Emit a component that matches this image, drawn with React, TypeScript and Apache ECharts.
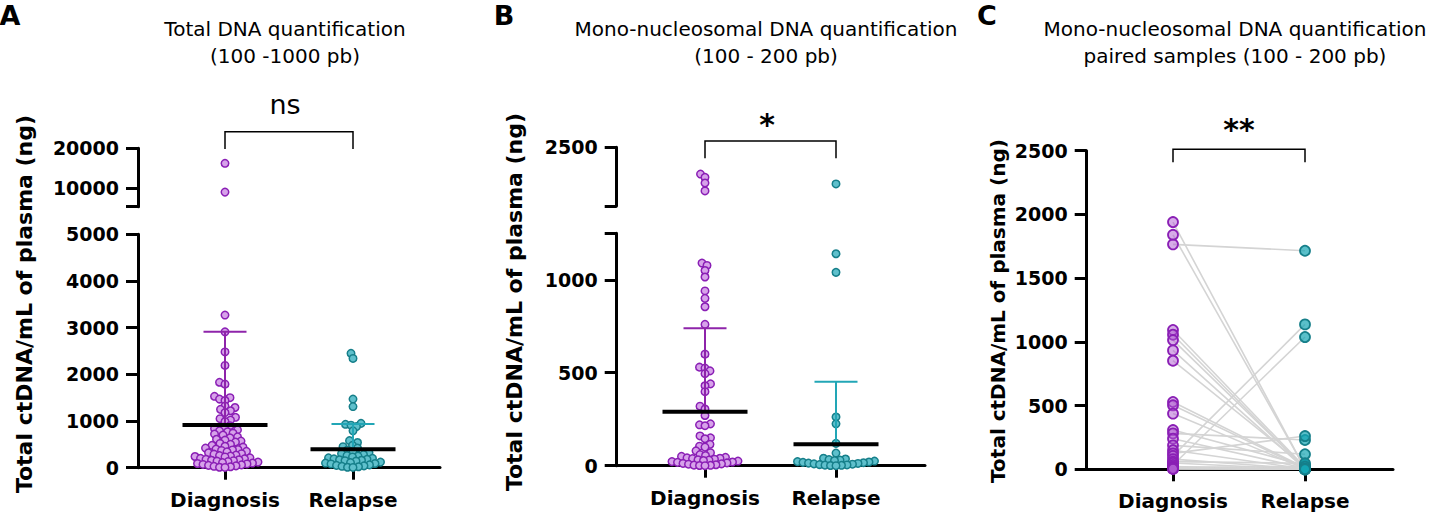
import React, { useEffect, useRef } from "react";
import * as echarts from "echarts";

// ---------- data ----------
const categories = ["Diagnosis", "Relapse"];
const yTitle = "Total ctDNA/mL of plasma (ng)";
const titlesA = ["Total DNA quantification", "(100 -1000 pb)"];
const titlesB = ["Mono-nucleosomal DNA quantification", "(100 - 200 pb)"];
const titlesC = ["Mono-nucleosomal DNA quantification", "paired samples (100 - 200 pb)"];
const panelLetters = ["A", "B", "C"];
const significance = ["ns", "*", "**"];

const totalDiagnosis = [16200, 8900, 3270, 2910, 2480, 2190, 1830, 1790, 1530, 1500, 1470, 1440, 1320, 1290, 1250, 1220, 1180, 1080, 1050, 1020, 990, 900, 870, 840, 810, 790, 770, 740, 720, 700, 660, 640, 610, 590, 570, 550, 520, 500, 480, 460, 440, 420, 400, 390, 380, 370, 350, 340, 320, 300, 290, 270, 260, 250, 240, 230, 210, 200, 190, 180, 170, 160, 150, 140, 130, 120, 110, 100, 90, 80, 70, 60, 50, 40, 30, 20, 10, 5];
const totalRelapse = [2450, 2340, 1470, 1310, 950, 930, 910, 880, 790, 580, 540, 480, 450, 420, 380, 350, 320, 300, 280, 260, 250, 230, 210, 200, 190, 180, 170, 160, 150, 140, 120, 110, 100, 90, 80, 60, 50, 40, 30, 20, 10, 5];
const totalMean = [915, 395];
const totalSdTop = [2910, 935];

const monoDiagnosis = [1930, 1860, 1740, 1570, 1090, 1077, 1050, 1015, 940, 900, 855, 760, 600, 530, 525, 510, 495, 440, 430, 398, 320, 305, 270, 225, 220, 215, 160, 150, 145, 115, 105, 100, 80, 70, 60, 55, 50, 45, 42, 40, 38, 35, 32, 30, 28, 25, 22, 20, 18, 15, 12, 10, 8, 5, 3, 2, 1, 0];
const monoRelapse = [1720, 1140, 1040, 262, 225, 120, 68, 40, 36, 33, 30, 28, 25, 22, 20, 18, 16, 14, 12, 10, 8, 6, 4, 3, 2, 1, 0];
const monoMean = [290, 115];
const monoSdTop = [739, 451];

const pairedDiagnosis = [1940, 1840, 1765, 1093, 1056, 1014, 933, 852, 528, 502, 437, 308, 282, 240, 188, 150, 125, 105, 80, 60, 50, 34, 21, 15, 10, 8, 5, 3];
const pairedRelapse = [3, 8, 1715, 15, 5, 10, 2, 20, 12, 6, 4, 30, 230, 8, 118, 3, 261, 1137, 2, 47, 0, 1038, 0, 21, 5, 2, 0, 1];

const ticksATop = [10000, 20000];
const ticksABottom = [0, 1000, 2000, 3000, 4000, 5000];
const ticksBTop = [2500];
const ticksBBottom = [0, 500, 1000];
const ticksC = [0, 500, 1000, 1500, 2000, 2500];
const rangeATop = [5200, 20000];
const rangeABottom = [0, 5000];
const rangeBTop = [1250, 2500];
const rangeBBottom = [0, 1250];
const rangeC = [0, 2500];

// ---------- layout / style ----------
const FONT = "DejaVu Sans";
const purple = { stroke: "#8a1fb5", fill: "#d7a2ea", bar: "#8e24aa", fillC: "rgba(175,90,210,0.5)" };
const teal = { stroke: "#167f8a", fill: "#5fc0cc", bar: "#22a6b6", fillC: "rgba(20,165,180,0.7)" };

type Seg = { y0: number; y1: number; range: number[] };
type Panel = { left: number; right: number; x1: number; x2: number; top?: Seg; bot: Seg };

const PA: Panel = { left: 138, right: 440, x1: 225, x2: 353, top: { y0: 148.3, y1: 206.7, range: rangeATop }, bot: { y0: 234.3, y1: 467.7, range: rangeABottom } };
const PB: Panel = { left: 616.7, right: 925, x1: 705, x2: 836, top: { y0: 147.3, y1: 206, range: rangeBTop }, bot: { y0: 233.3, y1: 465.7, range: rangeBBottom } };
const PC: Panel = { left: 1086.7, right: 1393, x1: 1173, x2: 1305, bot: { y0: 150.7, y1: 469.3, range: rangeC } };

const unitOf = (p: Panel) => p.x2 - p.x1;
const xRange = (p: Panel) => [1 - (p.x1 - p.left) / unitOf(p), 2 + (p.right - p.x2) / unitOf(p)];
const gridOf = (p: Panel, s: Seg) => ({ left: p.left, top: s.y0, width: p.right - p.left, height: s.y1 - s.y0, containLabel: false });
const pixOf = (p: Panel) => (v: number) => {
  const s = p.top && v > p.bot.range[1] ? p.top : p.bot;
  return s.y1 - ((v - s.range[0]) / (s.range[1] - s.range[0])) * (s.y1 - s.y0);
};

function swarm(values: number[], toPix: (v: number) => number, unit: number, minDist: number): number[] {
  const order = values.map((_, i) => i).sort((a, b) => values[a] - values[b]);
  const placed: { x: number; y: number }[] = [];
  const out = new Array(values.length).fill(0);
  let flip = 1;
  for (const i of order) {
    const y = toPix(values[i]);
    let chosen = 0;
    for (let k = 0; k < 600; k++) {
      const cands = k === 0 ? [0] : [flip * k * 0.5, -flip * k * 0.5];
      let found: number | null = null;
      for (const c of cands) {
        if (placed.every((p) => (p.x - c) ** 2 + (p.y - y) ** 2 >= minDist * minDist)) { found = c; break; }
      }
      if (found !== null) { chosen = found; break; }
    }
    flip = -flip;
    placed.push({ x: chosen, y });
    out[i] = chosen / unit;
  }
  return out;
}

const axisLineStyle = { color: "#000", width: 3 };
const tickLabel = { color: "#000", fontFamily: FONT, fontWeight: "bold" as const, fontSize: 19 };

function yAxisFor(gridIndex: number, range: number[], tickVals: number[], labelVals: number[]) {
  return {
    type: "value", gridIndex, min: range[0], max: range[1],
    splitLine: { show: false },
    axisLine: { show: true, onZero: false, lineStyle: axisLineStyle },
    axisTick: { show: true, length: 12, lineStyle: { width: 3, color: "#000" }, customValues: tickVals },
    axisLabel: { ...tickLabel, margin: 19, customValues: labelVals, formatter: (v: number) => String(Math.round(v)) },
  };
}
function xAxisFor(gridIndex: number, p: Panel, show: boolean) {
  const r = xRange(p);
  return {
    type: "value", gridIndex, min: r[0], max: r[1], show,
    splitLine: { show: false },
    axisLine: { show, onZero: false, lineStyle: axisLineStyle },
    axisTick: { show, length: 12, lineStyle: { width: 3, color: "#000" }, customValues: [1, 2] },
    axisLabel: { show, color: "#000", fontFamily: FONT, fontWeight: "bold", fontSize: 20, margin: 22, customValues: [1, 2], formatter: (v: number) => categories[Math.round(v) - 1] ?? "" },
  };
}

function scatterSeries(p: Panel, values: number[], cat: number, col: any, xTop: number, xBot: number, size: number) {
  const off = swarm(values, pixOf(p), unitOf(p), 5.4);
  const top: number[][] = [];
  const bot: number[][] = [];
  values.forEach((v, i) => {
    const pt = [cat + off[i], v];
    if (p.top && v > p.bot.range[1]) top.push(pt); else bot.push(pt);
  });
  const base = { type: "scatter", symbol: "circle", symbolSize: size, itemStyle: { color: col.fill, borderColor: col.stroke, borderWidth: 1.5, opacity: 1 }, z: 2, silent: true, clip: false };
  const out: any[] = [{ ...base, xAxisIndex: xBot, yAxisIndex: xBot, data: bot }];
  if (p.top) out.push({ ...base, xAxisIndex: xTop, yAxisIndex: xTop, data: top });
  return out;
}

function segLine(idx: number, data: number[][], color: string, width: number) {
  return { type: "line", xAxisIndex: idx, yAxisIndex: idx, data, symbol: "none", lineStyle: { color, width, cap: "butt" }, z: 5, silent: true, clip: false };
}
function meanSd(p: Panel, idx: number, mean: number[], sd: number[], cols: any[]) {
  const u = unitOf(p);
  const out: any[] = [];
  [1, 2].forEach((c, i) => {
    out.push(segLine(idx, [[c, mean[i]], [c, sd[i]]], cols[i].bar, 2));
    out.push(segLine(idx, [[c - 21.5 / u, sd[i]], [c + 21.5 / u, sd[i]]], cols[i].bar, 2));
    out.push(segLine(idx, [[c - 42.5 / u, mean[i]], [c + 42.5 / u, mean[i]]], "#000", 4));
  });
  return out;
}

function bracket(p: Panel, yTop: number, yLeg: number) {
  return { type: "polyline", shape: { points: [[p.x1, yLeg], [p.x1, yTop], [p.x2, yTop], [p.x2, yLeg]] }, style: { stroke: "#000", lineWidth: 1.5, fill: null }, silent: true };
}
function txt(x: number, y: number, text: string, size: number, weight: string, extra: any = {}) {
  return { type: "text", x, y, silent: true, ...extra, style: { text, fontFamily: FONT, fontSize: size, fontWeight: weight, fill: "#000", textAlign: "center", textVerticalAlign: "middle" } };
}

export default function App() {
  const ref = useRef<HTMLDivElement>(null);
  useEffect(() => {
    if (!ref.current) return;
    const chart = echarts.init(ref.current, undefined, { renderer: "svg" });
    const grids = [gridOf(PA, PA.top!), gridOf(PA, PA.bot), gridOf(PB, PB.top!), gridOf(PB, PB.bot), gridOf(PC, PC.bot)];
    const xAxes = [xAxisFor(0, PA, false), xAxisFor(1, PA, true), xAxisFor(2, PB, false), xAxisFor(3, PB, true), xAxisFor(4, PC, true)];
    const yAxes = [
      yAxisFor(0, rangeATop, [rangeATop[0], ...ticksATop], ticksATop),
      yAxisFor(1, rangeABottom, ticksABottom, ticksABottom),
      yAxisFor(2, rangeBTop, [rangeBTop[0], ...ticksBTop], ticksBTop),
      yAxisFor(3, rangeBBottom, [...ticksBBottom, rangeBBottom[1]], ticksBBottom),
      yAxisFor(4, rangeC, ticksC, ticksC),
    ];
    const series: any[] = [
      ...scatterSeries(PA, totalDiagnosis, 1, purple, 0, 1, 7.5),
      ...scatterSeries(PA, totalRelapse, 2, teal, 0, 1, 7.5),
      ...meanSd(PA, 1, totalMean, totalSdTop, [purple, teal]),
      ...scatterSeries(PB, monoDiagnosis, 1, purple, 2, 3, 7.5),
      ...scatterSeries(PB, monoRelapse, 2, teal, 2, 3, 7.5),
      ...meanSd(PB, 3, monoMean, monoSdTop, [purple, teal]),
      {
        type: "lines", coordinateSystem: "cartesian2d", xAxisIndex: 4, yAxisIndex: 4, silent: true, z: 1,
        data: pairedDiagnosis.map((d, i) => ({ coords: [[1, d], [2, pairedRelapse[i]]] })),
        lineStyle: { color: "#d4d4d4", width: 1.6, opacity: 1 },
      },
      { type: "scatter", xAxisIndex: 4, yAxisIndex: 4, symbolSize: 10, data: pairedDiagnosis.map((d) => [1, d]), itemStyle: { color: purple.fillC, borderColor: purple.stroke, borderWidth: 1.8, opacity: 1 }, z: 3, silent: true, clip: false },
      { type: "scatter", xAxisIndex: 4, yAxisIndex: 4, symbolSize: 10, data: pairedRelapse.map((d) => [2, d]), itemStyle: { color: teal.fillC, borderColor: teal.stroke, borderWidth: 1.8, opacity: 1 }, z: 3, silent: true, clip: false },
    ];
    const titleCenters = [285, 766, 1235];
    const titleSets = [titlesA, titlesB, titlesC];
    const graphic: any[] = [];
    titleSets.forEach((t, i) => {
      graphic.push(txt(titleCenters[i], 29, t[0], 20, "normal"));
      graphic.push(txt(titleCenters[i], 56, t[1], 20, "normal"));
    });
    [[10, 15], [504, 15], [987, 15]].forEach((pos, i) => graphic.push(txt(pos[0], pos[1], panelLetters[i], 27, "bold")));
    graphic.push(bracket(PA, 131.7, 149));
    graphic.push(bracket(PB, 141, 158.3));
    graphic.push(bracket(PC, 149.3, 162.3));
    graphic.push(txt(285, 104, significance[0], 27, "normal"));
    graphic.push(txt(767, 124, significance[1], 30, "bold"));
    graphic.push(txt(1239, 129, significance[2], 30, "bold"));
    graphic.push(txt(24, 304, yTitle, 22, "bold", { rotation: Math.PI / 2 }));
    graphic.push(txt(514, 302, yTitle, 22, "bold", { rotation: Math.PI / 2 }));
    graphic.push(txt(998, 311, yTitle, 20, "bold", { rotation: Math.PI / 2 }));

    chart.setOption({ animation: false, backgroundColor: "#fff", grid: grids, xAxis: xAxes, yAxis: yAxes, series, graphic });
    return () => chart.dispose();
  }, []);
  return <div ref={ref} style={{ position: "absolute", left: 0, top: 0, width: 1430, height: 516 }} />;
}
